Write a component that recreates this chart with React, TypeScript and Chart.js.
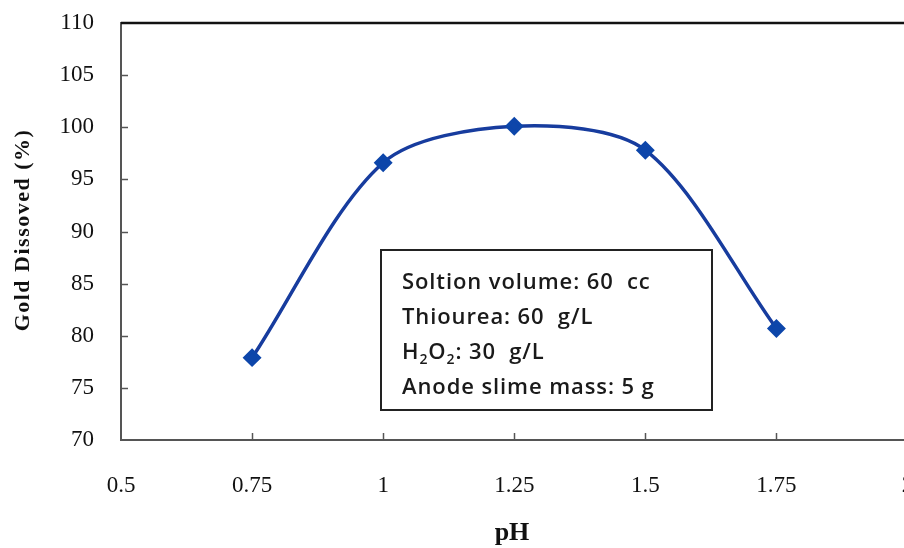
import React, { useEffect, useRef } from "react";
import { Chart, registerables } from "chart.js";

Chart.register(...registerables);

const phValues = [0.75, 1, 1.25, 1.5, 1.75];
const goldDissolved = [77.9, 96.6, 100.1, 97.8, 80.7];
const xTicks = [0.5, 0.75, 1, 1.25, 1.5, 1.75, 2];
const xTickLabels = ["0.5", "0.75", "1", "1.25", "1.5", "1.75", "2"];
const yTicks = [70, 75, 80, 85, 90, 95, 100, 105, 110];
const xTitle = "pH";
const yTitle = "Gold Dissoved (%)";
const noteLines = ["Soltion volume: 60  cc", "Thiourea: 60  g/L", "H2O2: 30  g/L", "Anode slime mass: 5 g"];

const W = 918;
const H = 548;
const NOTE_FONT = "'Open Sans'";

const decorPlugin = {
  id: "decor",
  afterDraw(chart: any) {
    const ctx = chart.ctx;
    const { left, right, top, bottom } = chart.chartArea;
    const xs = chart.scales.x;
    const ys = chart.scales.y;
    ctx.save();
    // top border
    ctx.strokeStyle = "#111";
    ctx.lineWidth = 2.5;
    ctx.beginPath();
    ctx.moveTo(left, top);
    ctx.lineTo(right + 10, top);
    ctx.stroke();
    // inner ticks
    ctx.strokeStyle = "#555";
    ctx.lineWidth = 1.5;
    yTicks.slice(1, -1).forEach((v) => {
      const y = Math.round(ys.getPixelForValue(v)) + 0.5;
      ctx.beginPath();
      ctx.moveTo(left, y);
      ctx.lineTo(left + 7, y);
      ctx.stroke();
    });
    xTicks.slice(1, -1).forEach((v) => {
      const x = Math.round(xs.getPixelForValue(v)) + 0.5;
      ctx.beginPath();
      ctx.moveTo(x, bottom);
      ctx.lineTo(x, bottom - 7);
      ctx.stroke();
    });
    // axis titles
    ctx.fillStyle = "#111";
    ctx.textAlign = "center";
    ctx.textBaseline = "middle";
    ctx.font = "bold 26px 'Liberation Serif'";
    ctx.fillText(xTitle, 512, 533);
    ctx.save();
    ctx.translate(23, 230);
    ctx.rotate(-Math.PI / 2);
    ctx.font = "bold 22px 'Liberation Serif'";
    (ctx as any).letterSpacing = "1.5px";
    ctx.fillText(yTitle, 0, 0);
    ctx.restore();
    // note box
    const bx = 381, by = 250, bw = 331, bh = 160;
    ctx.fillStyle = "#fff";
    ctx.fillRect(bx, by, bw, bh);
    ctx.strokeStyle = "#222";
    ctx.lineWidth = 2;
    ctx.strokeRect(bx, by, bw, bh);
    ctx.fillStyle = "#1a1a1a";
    ctx.textAlign = "left";
    ctx.textBaseline = "alphabetic";
    (ctx as any).letterSpacing = "0.9px";
    const fs = 22;
    const f = (size: number) => `600 ${size}px ${NOTE_FONT}`;
    ctx.font = f(fs);
    const tx = 402;
    const baseY = [289, 324, 359, 394];
    noteLines.forEach((line, i) => {
      const y = baseY[i];
      if (line.startsWith("H2O2")) {
        let x = tx;
        const parts: [string, boolean][] = [["H", false], ["2", true], ["O", false], ["2", true], [line.slice(4), false]];
        parts.forEach(([t, sub]) => {
          if (sub) {
            ctx.font = f(Math.round(fs * 0.62));
            ctx.fillText(t, x, y + 5);
          } else {
            ctx.font = f(fs);
            ctx.fillText(t, x, y);
          }
          x += ctx.measureText(t).width;
        });
        ctx.font = f(fs);
      } else {
        ctx.fillText(line, tx, y);
      }
    });
    ctx.restore();
  },
};

export default function App() {
  const ref = useRef<HTMLCanvasElement>(null);
  useEffect(() => {
    document.body.style.margin = "0";
    document.body.style.overflow = "hidden";
    const chart = new Chart(ref.current!, {
      type: "line",
      data: {
        datasets: [
          {
            data: phValues.map((x, i) => ({ x, y: goldDissolved[i] })),
            borderColor: "#173c9e",
            borderWidth: 3.5,
            backgroundColor: "#0d46aa",
            pointBackgroundColor: "#0d46aa",
            pointBorderColor: "#0d46aa",
            pointStyle: "rectRot",
            pointRadius: 7,
            tension: 0.3,
            fill: false,
          },
        ],
      },
      options: {
        animation: false,
        responsive: false,
        devicePixelRatio: 1,
        layout: { padding: { left: 0, top: 23, right: 5, bottom: 0 } },
        plugins: { legend: { display: false }, tooltip: { enabled: false } },
        scales: {
          x: {
            type: "linear",
            min: 0.5,
            max: 2,
            afterBuildTicks: (s: any) => {
              s.ticks = xTicks.map((v) => ({ value: v }));
            },
            afterFit: (s: any) => {
              s.height = H - 440;
              s.paddingLeft = 0;
              s.paddingRight = 0;
            },
            grid: { display: false, drawTicks: false },
            border: { display: true, color: "#555", width: 2 },
            ticks: {
              padding: 32,
              color: "#111",
              font: { family: "'Liberation Serif'", size: 23 },
              maxRotation: 0,
              autoSkip: false,
              callback: (v: any) => {
                const i = xTicks.indexOf(Number(v));
                return i >= 0 ? xTickLabels[i] : "";
              },
            },
          },
          y: {
            min: 70,
            max: 110,
            afterBuildTicks: (s: any) => {
              s.ticks = yTicks.map((v) => ({ value: v }));
            },
            afterFit: (s: any) => {
              s.width = 121;
              s.paddingTop = 0;
              s.paddingBottom = 0;
            },
            grid: { display: false, drawTicks: false },
            border: { display: true, color: "#555", width: 2 },
            ticks: {
              padding: 27,
              color: "#111",
              font: { family: "'Liberation Serif'", size: 23 },
            },
          },
        },
      },
      plugins: [decorPlugin],
    });
    return () => chart.destroy();
  }, []);
  return (
    <div style={{ position: "fixed", left: 0, top: 0, width: 904, height: 548, overflow: "hidden", background: "#fff" }}>
      <canvas ref={ref} width={W} height={H} style={{ width: W, height: H, display: "block" }} />
    </div>
  );
}
